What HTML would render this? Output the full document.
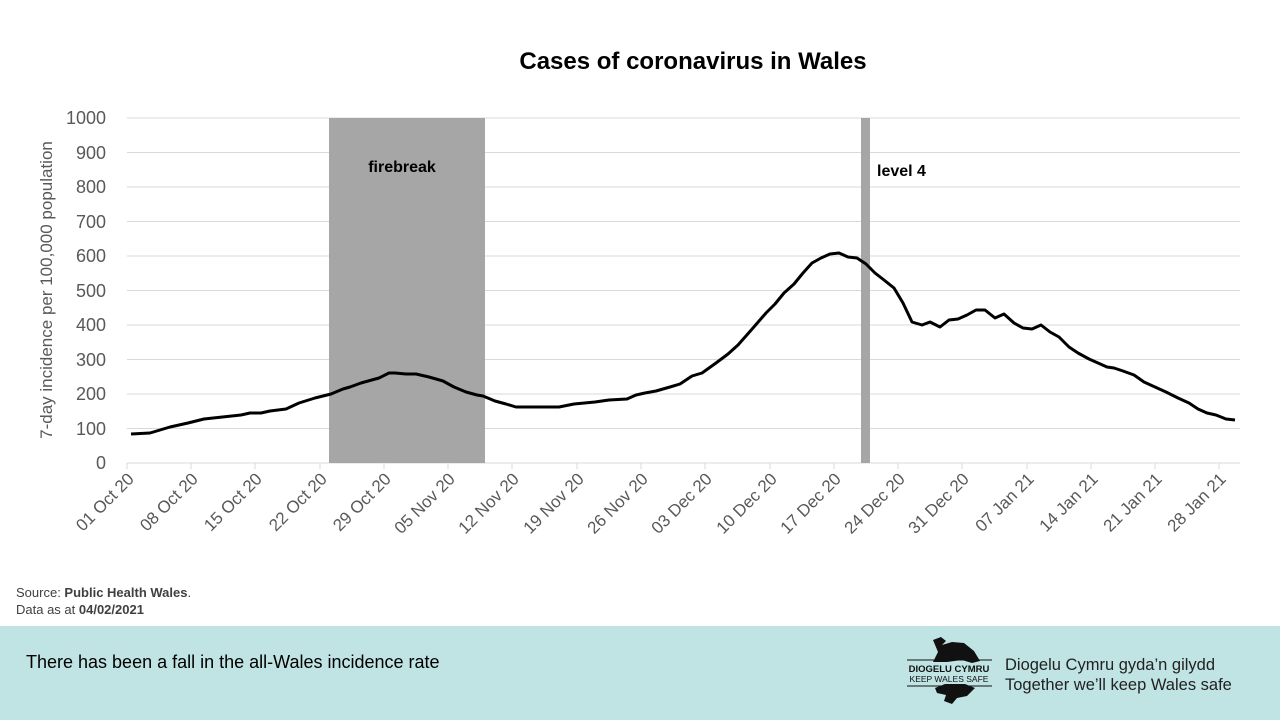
<!DOCTYPE html>
<html><head><meta charset="utf-8"><style>
body{margin:0;width:1280px;height:720px;overflow:hidden;background:#fff;font-family:"Liberation Sans",sans-serif;}
svg{position:absolute;left:0;top:0}
</style></head><body>
<svg width="1280" height="720" xmlns="http://www.w3.org/2000/svg" font-family="Liberation Sans, sans-serif">
<text x="693" y="69" text-anchor="middle" font-size="24" font-weight="bold" fill="#000">Cases of coronavirus in Wales</text>
<g stroke="#d9d9d9" stroke-width="1">
<line x1="127" x2="1240" y1="118" y2="118"/><line x1="127" x2="1240" y1="152.5" y2="152.5"/>
<line x1="127" x2="1240" y1="187" y2="187"/><line x1="127" x2="1240" y1="221.5" y2="221.5"/>
<line x1="127" x2="1240" y1="256" y2="256"/><line x1="127" x2="1240" y1="290.5" y2="290.5"/>
<line x1="127" x2="1240" y1="325" y2="325"/><line x1="127" x2="1240" y1="359.5" y2="359.5"/>
<line x1="127" x2="1240" y1="394" y2="394"/><line x1="127" x2="1240" y1="428.5" y2="428.5"/>
<line x1="127" x2="1240" y1="463" y2="463"/>
</g>
<g stroke="#d9d9d9"><line x1="127" x2="127" y1="463" y2="469"/><line x1="191" x2="191" y1="463" y2="469"/><line x1="255" x2="255" y1="463" y2="469"/><line x1="320" x2="320" y1="463" y2="469"/><line x1="384" x2="384" y1="463" y2="469"/><line x1="448" x2="448" y1="463" y2="469"/><line x1="512" x2="512" y1="463" y2="469"/><line x1="577" x2="577" y1="463" y2="469"/><line x1="641" x2="641" y1="463" y2="469"/><line x1="705" x2="705" y1="463" y2="469"/><line x1="770" x2="770" y1="463" y2="469"/><line x1="834" x2="834" y1="463" y2="469"/><line x1="898" x2="898" y1="463" y2="469"/><line x1="962" x2="962" y1="463" y2="469"/><line x1="1027" x2="1027" y1="463" y2="469"/><line x1="1091" x2="1091" y1="463" y2="469"/><line x1="1155" x2="1155" y1="463" y2="469"/><line x1="1219" x2="1219" y1="463" y2="469"/></g>
<rect x="329" y="118" width="156" height="345" fill="#a6a6a6"/>
<rect x="861" y="118" width="9" height="345" fill="#a6a6a6"/>
<text x="402" y="172" text-anchor="middle" font-size="16" font-weight="bold">firebreak</text>
<text x="877" y="176" font-size="16" font-weight="bold">level 4</text>
<g font-size="18" fill="#595959" text-anchor="end">
<text x="106" y="124">1000</text><text x="106" y="159">900</text><text x="106" y="193">800</text><text x="106" y="228">700</text><text x="106" y="262">600</text><text x="106" y="297">500</text><text x="106" y="331">400</text><text x="106" y="366">300</text><text x="106" y="400">200</text><text x="106" y="435">100</text><text x="106" y="469">0</text>
</g>
<text transform="translate(52,290) rotate(-90)" text-anchor="middle" font-size="17" fill="#595959">7-day incidence per 100,000 population</text>
<g font-size="17" fill="#595959" text-anchor="end">
<text transform="translate(135,480) rotate(-45)">01 Oct 20</text>
<text transform="translate(199,480) rotate(-45)">08 Oct 20</text>
<text transform="translate(263,480) rotate(-45)">15 Oct 20</text>
<text transform="translate(328,480) rotate(-45)">22 Oct 20</text>
<text transform="translate(392,480) rotate(-45)">29 Oct 20</text>
<text transform="translate(456,480) rotate(-45)">05 Nov 20</text>
<text transform="translate(520,480) rotate(-45)">12 Nov 20</text>
<text transform="translate(585,480) rotate(-45)">19 Nov 20</text>
<text transform="translate(649,480) rotate(-45)">26 Nov 20</text>
<text transform="translate(713,480) rotate(-45)">03 Dec 20</text>
<text transform="translate(778,480) rotate(-45)">10 Dec 20</text>
<text transform="translate(842,480) rotate(-45)">17 Dec 20</text>
<text transform="translate(906,480) rotate(-45)">24 Dec 20</text>
<text transform="translate(970,480) rotate(-45)">31 Dec 20</text>
<text transform="translate(1035,480) rotate(-45)">07 Jan 21</text>
<text transform="translate(1099,480) rotate(-45)">14 Jan 21</text>
<text transform="translate(1163,480) rotate(-45)">21 Jan 21</text>
<text transform="translate(1227,480) rotate(-45)">28 Jan 21</text>
</g>
<polyline fill="none" stroke="#000" stroke-width="3" stroke-linejoin="round" points="131,434 150,433 170,427 188,423 204,419 241,415 250,413 261,413 270,411 286,409 299,403 315,398 331,394 343,389 350,387 361,383 379,378 389,373 395,373 406,374 416,374 429,377 443,381 454,387 466,392 477,395 483,396 495,401 506,404 516,407 559,407 574,404 595,402 609,400 627,399 636,395 645,393 656,391 670,387 680,384 692,376 702,373 716,363 728,354 738,345 753,328 766,313 775,304 784,293 794,284 803,273 812,263 821,258 830,254 839,253 848,257 857,258 866,264 875,273 884,280 894,288 903,303 912,322 922,325 930,322 940,327 949,320 958,319 967,315 976,310 985,310 995,318 1004,314 1014,323 1023,328 1032,329 1041,325 1050,332 1059,337 1069,347 1078,353 1089,359 1098,363 1107,367 1114,368 1123,371 1134,375 1144,382 1155,387 1166,392 1178,398 1189,403 1198,409 1207,413 1216,415 1226,419 1235,420"/>
<text x="16" y="597" font-size="13" fill="#404040">Source: <tspan font-weight="bold">Public Health Wales</tspan>.</text>
<text x="16" y="614" font-size="13" fill="#404040">Data as at <tspan font-weight="bold">04/02/2021</tspan></text>
<rect x="0" y="626" width="1280" height="94" fill="#c0e3e3"/>
<text x="26" y="668" font-size="18" fill="#000">There has been a fall in the all-Wales incidence rate</text>
<path d="M933,640 l8,-3 l5,4 l-4,4 l10,-3 l12,1 l10,8 l6,10 l-8,2 l-10,-3 l-15,2 l-14,0 l5,-10 z M935,688 l10,-4 l20,0 l10,4 l-8,8 l-10,2 l-5,6 l-8,-3 l2,-6 l-9,-2 z" fill="#111"/>
<line x1="907" y1="660" x2="992" y2="660" stroke="#111"/>
<line x1="907" y1="686" x2="992" y2="686" stroke="#111"/>
<text x="949" y="672" text-anchor="middle" font-size="9.5" font-weight="bold" fill="#111">DIOGELU CYMRU</text>
<text x="949" y="682" text-anchor="middle" font-size="8.5" fill="#111">KEEP WALES SAFE</text>
<text x="1005" y="670" font-size="16.5" fill="#222">Diogelu Cymru gyda’n gilydd</text>
<text x="1005" y="690" font-size="16.5" fill="#222">Together we’ll keep Wales safe</text>
</svg>
</body></html>
